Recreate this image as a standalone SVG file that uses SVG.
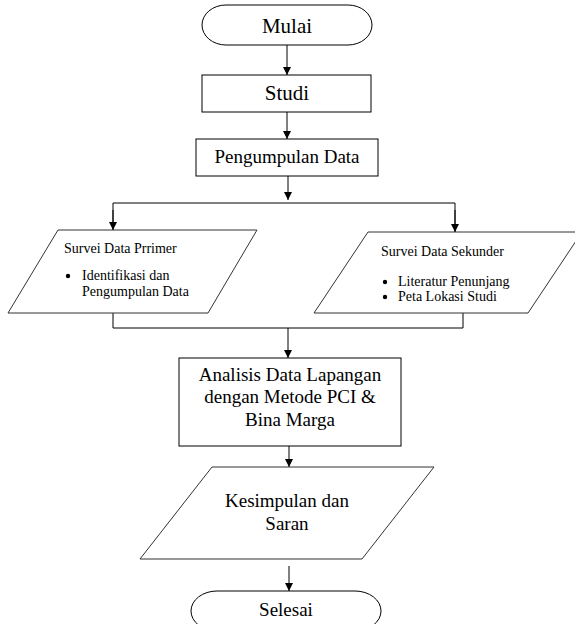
<svg xmlns="http://www.w3.org/2000/svg" width="575" height="624" viewBox="0 0 575 624">
<style>
.box{fill:#fff;stroke:#000;stroke-width:1}
.para{fill:#fff;stroke:#333;stroke-width:1}
text{font-family:'Liberation Serif','Tinos','Times New Roman','DejaVu Serif',serif;fill:#000}
.big{font-size:19px;text-anchor:middle}
.sm{font-size:14px}
.ln{fill:none;stroke:#000;stroke-width:1}
</style>
<defs>
<marker id="ah" viewBox="0 0 8 8" refX="8" refY="4" markerWidth="8" markerHeight="8" markerUnits="userSpaceOnUse" orient="auto">
<path d="M0,0 L8,4 L0,8 z" fill="#000"/>
</marker>
</defs>
<rect width="575" height="624" fill="#fff"/>
<g id="connectors">
<line class="ln" x1="287" y1="45" x2="287" y2="75" marker-end="url(#ah)"/>
<line class="ln" x1="287" y1="112" x2="287" y2="139" marker-end="url(#ah)"/>
<line class="ln" x1="288" y1="176" x2="288" y2="200" marker-end="url(#ah)"/>
<polyline class="ln" points="113,230 113,203 455,203 455,232" />
<line class="ln" x1="113" y1="210" x2="113" y2="230" marker-end="url(#ah)"/>
<line class="ln" x1="455" y1="210" x2="455" y2="232" marker-end="url(#ah)"/>
<polyline class="ln" points="113,313 113,328 463,328 463,313"/>
<line class="ln" x1="288" y1="328" x2="288" y2="358" marker-end="url(#ah)"/>
<line class="ln" x1="289" y1="446" x2="289" y2="467" marker-end="url(#ah)"/>
<line class="ln" x1="289" y1="566" x2="289" y2="591" marker-end="url(#ah)"/>
</g>
<g id="mulai">
<rect class="box" x="202" y="5" width="170" height="40" rx="24" ry="20"/>
<text class="big" x="287" y="33" style="font-size:21px">Mulai</text>
</g>
<g id="studi">
<rect class="box" x="202" y="75" width="169" height="37"/>
<text class="big" x="287" y="100" style="font-size:21px">Studi</text>
</g>
<g id="pengumpulan">
<rect class="box" x="196" y="139" width="182" height="37"/>
<text class="big" x="287" y="163">Pengumpulan Data</text>
</g>
<g id="primer">
<polygon class="para" points="58,230 257,230 208,313 8,313"/>
<text class="sm" x="64" y="253">Survei Data Prrimer</text>
<circle cx="68" cy="276" r="2.2" fill="#000"/>
<text class="sm" x="82" y="280">Identifikasi dan</text>
<text class="sm" x="82" y="296">Pengumpulan Data</text>
</g>
<g id="sekunder">
<polygon class="para" points="368,232 582,232 528,313 314,313"/>
<text class="sm" x="381" y="256">Survei Data Sekunder</text>
<circle cx="385" cy="282" r="2.2" fill="#000"/>
<text class="sm" x="398" y="286">Literatur Penunjang</text>
<circle cx="385" cy="297" r="2.2" fill="#000"/>
<text class="sm" x="398" y="301">Peta Lokasi Studi</text>
</g>
<g id="analisis">
<rect class="box" x="179" y="358" width="222" height="88"/>
<text class="big" x="290" y="381">Analisis Data Lapangan</text>
<text class="big" x="290" y="403">dengan Metode PCI &amp;</text>
<text class="big" x="290" y="426">Bina Marga</text>
</g>
<g id="kesimpulan">
<polygon class="para" points="212,467 434,467 362,559 140,559"/>
<text class="big" x="287" y="507">Kesimpulan dan</text>
<text class="big" x="287" y="530">Saran</text>
</g>
<g id="selesai">
<rect class="box" x="191" y="591" width="190" height="40" rx="26" ry="20"/>
<text class="big" x="286" y="616">Selesai</text>
</g>
</svg>
